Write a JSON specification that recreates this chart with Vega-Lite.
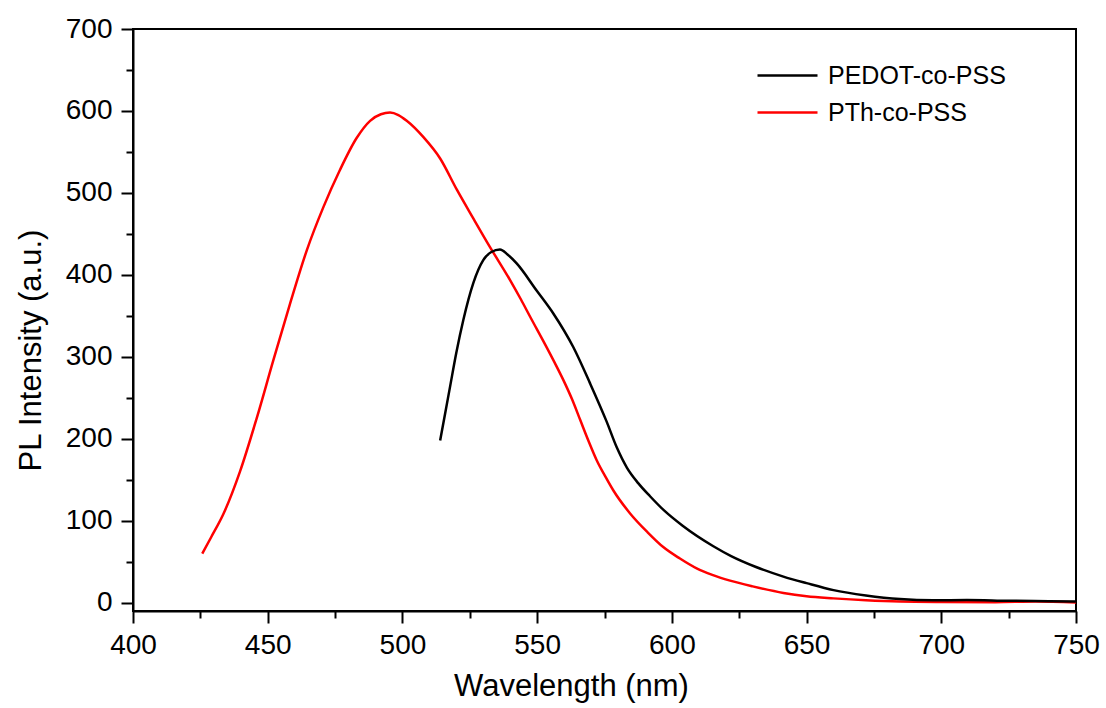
{
  "$schema": "https://vega.github.io/schema/vega-lite/v6.json",
  "width": 943,
  "height": 582,
  "autosize": {"type": "none"},
  "padding": {"left": 133, "top": 29, "right": 30, "bottom": 97},
  "background": "white",
  "config": {
    "view": {"stroke": "black", "strokeWidth": 2},
    "font": "Liberation Sans",
    "axis": {"grid": false, "labelFont": "Liberation Sans", "titleFont": "Liberation Sans", "labelColor": "black", "titleColor": "black", "tickColor": "black", "domainColor": "black"}
  },
  "datasets": {
    "spectra": [
      {"wavelength": 425.7, "intensity": 60, "series": "PTh-co-PSS"},
      {"wavelength": 429, "intensity": 80, "series": "PTh-co-PSS"},
      {"wavelength": 433.5, "intensity": 108, "series": "PTh-co-PSS"},
      {"wavelength": 439.7, "intensity": 160, "series": "PTh-co-PSS"},
      {"wavelength": 445.9, "intensity": 225, "series": "PTh-co-PSS"},
      {"wavelength": 452.1, "intensity": 296, "series": "PTh-co-PSS"},
      {"wavelength": 458.3, "intensity": 365, "series": "PTh-co-PSS"},
      {"wavelength": 464.5, "intensity": 430, "series": "PTh-co-PSS"},
      {"wavelength": 470.7, "intensity": 483, "series": "PTh-co-PSS"},
      {"wavelength": 476.8, "intensity": 528, "series": "PTh-co-PSS"},
      {"wavelength": 483.0, "intensity": 567, "series": "PTh-co-PSS"},
      {"wavelength": 488.0, "intensity": 588, "series": "PTh-co-PSS"},
      {"wavelength": 492.0, "intensity": 596, "series": "PTh-co-PSS"},
      {"wavelength": 495.4, "intensity": 598, "series": "PTh-co-PSS"},
      {"wavelength": 498.5, "intensity": 595, "series": "PTh-co-PSS"},
      {"wavelength": 501.6, "intensity": 588, "series": "PTh-co-PSS"},
      {"wavelength": 507.8, "intensity": 568, "series": "PTh-co-PSS"},
      {"wavelength": 514.0, "intensity": 542, "series": "PTh-co-PSS"},
      {"wavelength": 520.2, "intensity": 504, "series": "PTh-co-PSS"},
      {"wavelength": 526.3, "intensity": 469, "series": "PTh-co-PSS"},
      {"wavelength": 532.5, "intensity": 434, "series": "PTh-co-PSS"},
      {"wavelength": 539.9, "intensity": 394, "series": "PTh-co-PSS"},
      {"wavelength": 544.0, "intensity": 370, "series": "PTh-co-PSS"},
      {"wavelength": 547.4, "intensity": 349, "series": "PTh-co-PSS"},
      {"wavelength": 553.0, "intensity": 315, "series": "PTh-co-PSS"},
      {"wavelength": 556.5, "intensity": 293, "series": "PTh-co-PSS"},
      {"wavelength": 559.7, "intensity": 272, "series": "PTh-co-PSS"},
      {"wavelength": 563.0, "intensity": 248, "series": "PTh-co-PSS"},
      {"wavelength": 566.0, "intensity": 223, "series": "PTh-co-PSS"},
      {"wavelength": 569.0, "intensity": 198, "series": "PTh-co-PSS"},
      {"wavelength": 572.1, "intensity": 174, "series": "PTh-co-PSS"},
      {"wavelength": 575.5, "intensity": 153, "series": "PTh-co-PSS"},
      {"wavelength": 578.3, "intensity": 137, "series": "PTh-co-PSS"},
      {"wavelength": 584.5, "intensity": 109, "series": "PTh-co-PSS"},
      {"wavelength": 591.0, "intensity": 86, "series": "PTh-co-PSS"},
      {"wavelength": 596.8, "intensity": 68, "series": "PTh-co-PSS"},
      {"wavelength": 603.0, "intensity": 54, "series": "PTh-co-PSS"},
      {"wavelength": 609.2, "intensity": 42, "series": "PTh-co-PSS"},
      {"wavelength": 615.0, "intensity": 34, "series": "PTh-co-PSS"},
      {"wavelength": 621.6, "intensity": 27, "series": "PTh-co-PSS"},
      {"wavelength": 630.0, "intensity": 20, "series": "PTh-co-PSS"},
      {"wavelength": 641.4, "intensity": 12, "series": "PTh-co-PSS"},
      {"wavelength": 650.0, "intensity": 8, "series": "PTh-co-PSS"},
      {"wavelength": 660.0, "intensity": 5.4, "series": "PTh-co-PSS"},
      {"wavelength": 672.0, "intensity": 3, "series": "PTh-co-PSS"},
      {"wavelength": 684.7, "intensity": 1.5, "series": "PTh-co-PSS"},
      {"wavelength": 700.0, "intensity": 1, "series": "PTh-co-PSS"},
      {"wavelength": 720.0, "intensity": 0.8, "series": "PTh-co-PSS"},
      {"wavelength": 735.0, "intensity": 1.5, "series": "PTh-co-PSS"},
      {"wavelength": 750.0, "intensity": 0.5, "series": "PTh-co-PSS"},
      {"wavelength": 514.0, "intensity": 198, "series": "PEDOT-co-PSS"},
      {"wavelength": 515.8, "intensity": 230, "series": "PEDOT-co-PSS"},
      {"wavelength": 517.7, "intensity": 264, "series": "PEDOT-co-PSS"},
      {"wavelength": 520.0, "intensity": 305, "series": "PEDOT-co-PSS"},
      {"wavelength": 522.6, "intensity": 345, "series": "PEDOT-co-PSS"},
      {"wavelength": 526.3, "intensity": 390, "series": "PEDOT-co-PSS"},
      {"wavelength": 530.0, "intensity": 418, "series": "PEDOT-co-PSS"},
      {"wavelength": 533.0, "intensity": 428, "series": "PEDOT-co-PSS"},
      {"wavelength": 536.2, "intensity": 431, "series": "PEDOT-co-PSS"},
      {"wavelength": 539.0, "intensity": 425, "series": "PEDOT-co-PSS"},
      {"wavelength": 542.4, "intensity": 414, "series": "PEDOT-co-PSS"},
      {"wavelength": 549.8, "intensity": 381, "series": "PEDOT-co-PSS"},
      {"wavelength": 556.0, "intensity": 353, "series": "PEDOT-co-PSS"},
      {"wavelength": 563.4, "intensity": 312, "series": "PEDOT-co-PSS"},
      {"wavelength": 569.6, "intensity": 268, "series": "PEDOT-co-PSS"},
      {"wavelength": 575.8, "intensity": 221, "series": "PEDOT-co-PSS"},
      {"wavelength": 579.5, "intensity": 190, "series": "PEDOT-co-PSS"},
      {"wavelength": 583.3, "intensity": 165, "series": "PEDOT-co-PSS"},
      {"wavelength": 587.5, "intensity": 146, "series": "PEDOT-co-PSS"},
      {"wavelength": 591.9, "intensity": 130, "series": "PEDOT-co-PSS"},
      {"wavelength": 597.0, "intensity": 113, "series": "PEDOT-co-PSS"},
      {"wavelength": 604.0, "intensity": 94, "series": "PEDOT-co-PSS"},
      {"wavelength": 615.4, "intensity": 69, "series": "PEDOT-co-PSS"},
      {"wavelength": 622.0, "intensity": 57, "series": "PEDOT-co-PSS"},
      {"wavelength": 631.0, "intensity": 44, "series": "PEDOT-co-PSS"},
      {"wavelength": 641.4, "intensity": 32, "series": "PEDOT-co-PSS"},
      {"wavelength": 650.0, "intensity": 24, "series": "PEDOT-co-PSS"},
      {"wavelength": 660.0, "intensity": 15.5, "series": "PEDOT-co-PSS"},
      {"wavelength": 672.0, "intensity": 9, "series": "PEDOT-co-PSS"},
      {"wavelength": 684.7, "intensity": 4.5, "series": "PEDOT-co-PSS"},
      {"wavelength": 697.0, "intensity": 3, "series": "PEDOT-co-PSS"},
      {"wavelength": 709.5, "intensity": 3.5, "series": "PEDOT-co-PSS"},
      {"wavelength": 725.0, "intensity": 2.5, "series": "PEDOT-co-PSS"},
      {"wavelength": 740.0, "intensity": 2, "series": "PEDOT-co-PSS"},
      {"wavelength": 750.0, "intensity": 1.5, "series": "PEDOT-co-PSS"}
    ]
  },
  "data": {"name": "spectra"},
  "layer": [
    {
      "mark": {"type": "line", "strokeWidth": 2.5, "clip": true, "interpolate": "monotone"},
      "encoding": {
        "x": {
          "field": "wavelength", "type": "quantitative",
          "scale": {"domain": [400, 750], "nice": false, "zero": false},
          "axis": {
            "orient": "bottom",
            "values": [400, 450, 500, 550, 600, 650, 700, 750],
            "tickSize": 12, "tickWidth": 2, "domainWidth": 2,
            "labelFontSize": 28, "labelPadding": 8, "labelFlush": false, "labelOverlap": false,
            "title": "Wavelength (nm)", "titleFontSize": 31, "titleFontWeight": "normal",
            "titleX": 438, "titleY": 84, "titleAlign": "center", "titleBaseline": "alphabetic"
          }
        },
        "y": {
          "field": "intensity", "type": "quantitative",
          "scale": {"domain": [-10, 700], "nice": false, "zero": false},
          "axis": {
            "orient": "left",
            "values": [0, 100, 200, 300, 400, 500, 600, 700],
            "tickSize": 12, "tickWidth": 2, "domainWidth": 2,
            "labelFontSize": 28, "labelPadding": 9, "labelFlush": false, "labelOverlap": false,
            "title": "PL Intensity (a.u.)", "titleFontSize": 31, "titleFontWeight": "normal",
            "titleAngle": 270, "titleX": -93, "titleY": 321, "titleAlign": "center", "titleBaseline": "alphabetic"
          }
        },
        "color": {
          "field": "series", "type": "nominal",
          "scale": {"domain": ["PEDOT-co-PSS", "PTh-co-PSS"], "range": ["#000000", "#ff0000"]},
          "legend": {
            "orient": "none", "legendX": 642, "legendY": 34, "title": null,
            "symbolType": "M-3,0H3", "symbolSize": 400, "symbolStrokeWidth": 2.5,
            "labelFontSize": 25, "labelFont": "Liberation Sans", "labelColor": "black", "labelLimit": 0,
            "labelOffset": 28, "rowPadding": 11, "padding": 0
          }
        }
      }
    },
    {
      "mark": {"type": "line", "opacity": 0},
      "encoding": {
        "detail": {"field": "series", "type": "nominal"},
        "x": {
          "field": "wavelength", "type": "quantitative",
          "scale": {"domain": [400, 750], "nice": false, "zero": false},
          "axis": {
            "orient": "bottom", "values": [425, 475, 525, 575, 625, 675, 725],
            "tickSize": 7, "tickWidth": 2, "labels": false, "domain": false, "title": null
          }
        },
        "y": {
          "field": "intensity", "type": "quantitative",
          "scale": {"domain": [-10, 700], "nice": false, "zero": false},
          "axis": {
            "orient": "left", "values": [50, 150, 250, 350, 450, 550, 650],
            "tickSize": 7, "tickWidth": 2, "labels": false, "domain": false, "title": null
          }
        }
      }
    }
  ],
  "resolve": {"axis": {"x": "independent", "y": "independent"}}
}
